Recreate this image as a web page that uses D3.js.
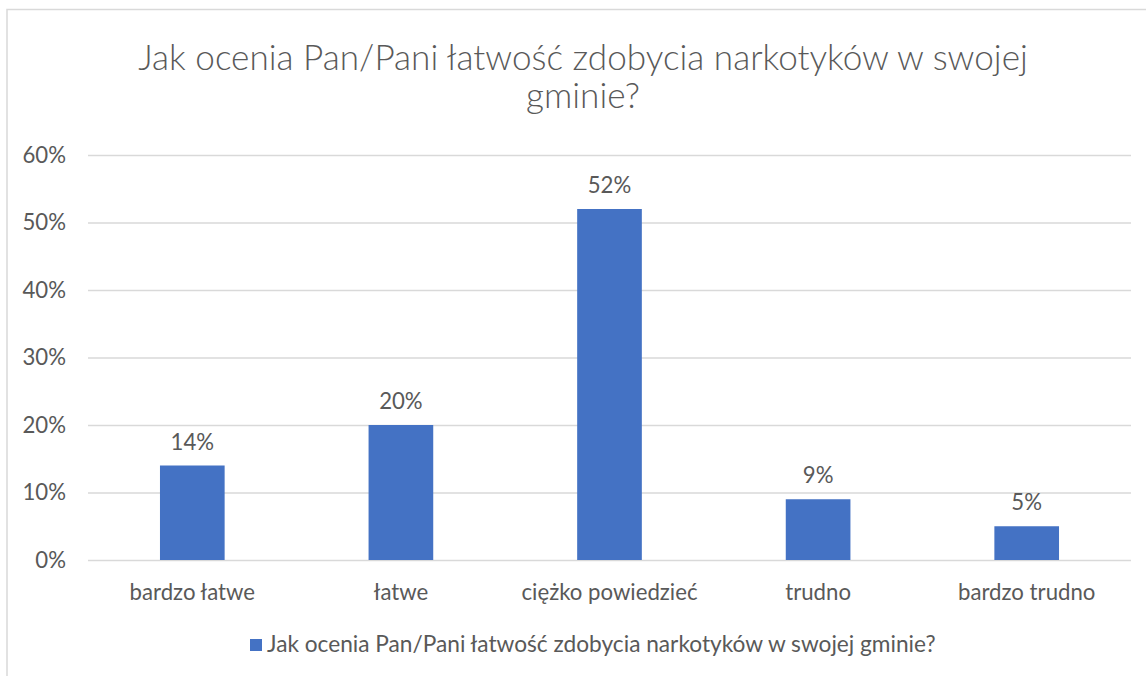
<!DOCTYPE html>
<html><head><meta charset="utf-8">
<script src="https://cdn.jsdelivr.net/npm/d3@7"></script>
<style>body{margin:0;background:#fff}svg{display:block}</style>
</head><body>
<svg id="c" width="1146" height="676"></svg>
<script>
const categories = ["bardzo łatwe","łatwe","ciężko powiedzieć","trudno","bardzo trudno"];
const values = [14,20,52,9,5];
const yTicks = [0,10,20,30,40,50,60];
const titleLines = ["Jak ocenia Pan/Pani łatwość zdobycia narkotyków w swojej","gminie?"];
const seriesName = "Jak ocenia Pan/Pani łatwość zdobycia narkotyków w swojej gminie?";

const svg = d3.select("#c");
const font = "Lato, 'Open Sans', sans-serif";
const grey = "#595959";
function fitSize(txt, target, base, weight){
  const t = svg.append("text").attr("font-family",font).attr("font-size",base)
    .attr("font-weight",weight||400).text(txt);
  const w = t.node().getComputedTextLength(); t.remove();
  return base*target/w;
}
const axFs = fitSize("ciężko powiedzieć",176,20);
// frame
svg.append("rect").attr("x",7).attr("y",9.5).attr("width",1150).attr("height",680)
  .attr("fill","none").attr("stroke","#d9d9d9").attr("stroke-width",1.5);

const L=88, R=1131, T=155, B=560;
const x = d3.scaleBand().domain(categories).range([L,R]).paddingInner(0.69).paddingOuter(0.345);
const y = d3.scaleLinear().domain([0,60]).range([B,T]);

// title
const tFs = fitSize(titleLines[0],890,28,300);
const tl = svg.append("g");
titleLines.forEach((t,i)=>{
  tl.append("text").attr("x",583).attr("y",70+i*38).attr("text-anchor","middle")
    .attr("font-family",font).attr("font-weight",300).attr("font-size",tFs).attr("fill",grey).text(t);
});

// grid
const yAxis = d3.axisLeft(y).tickValues(yTicks).tickFormat(d=>d+"%").tickSize(-(R-L)).tickPadding(22);
const ga = svg.append("g").attr("transform",`translate(${L},0)`).call(yAxis);
ga.select(".domain").remove();
ga.selectAll(".tick line").attr("stroke","#d9d9d9").attr("stroke-width",1.3);
ga.selectAll(".tick text").attr("font-family",font).attr("font-size",axFs).attr("fill",grey);

// bars
svg.append("g").selectAll("rect").data(values).join("rect")
  .attr("x",(d,i)=>x(categories[i])).attr("width",x.bandwidth())
  .attr("y",d=>y(d)).attr("height",d=>B-y(d)).attr("fill","#4472c4");
// labels
svg.append("g").selectAll("text").data(values).join("text")
  .attr("x",(d,i)=>x(categories[i])+x.bandwidth()/2).attr("y",d=>y(d)-16)
  .attr("text-anchor","middle").attr("font-family",font).attr("font-size",axFs).attr("fill",grey)
  .text(d=>d+"%");

// x axis
const xa = d3.axisBottom(x).tickSize(0).tickPadding(24);
const gx = svg.append("g").attr("transform",`translate(0,${B})`).call(xa);
gx.select(".domain").remove();
gx.selectAll(".tick text").attr("font-family",font).attr("font-size",axFs).attr("fill",grey);

// legend
const lFs = fitSize(seriesName,669,16);
const lg = svg.append("g");
lg.append("rect").attr("x",250).attr("y",639).attr("width",12).attr("height",12).attr("fill","#4472c4");
lg.append("text").attr("x",267).attr("y",652).attr("font-family",font).attr("font-size",lFs).attr("fill",grey).text(seriesName);
</script>
</body></html>
